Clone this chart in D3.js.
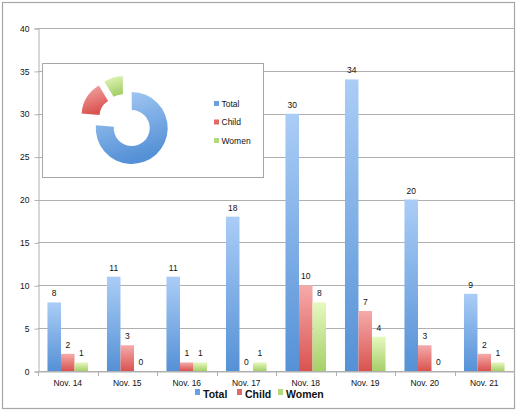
<!DOCTYPE html>
<html><head><meta charset="utf-8">
<script src="https://cdn.jsdelivr.net/npm/d3@7"></script>
<style>body{margin:0;background:#fff}svg{display:block;font-family:"Liberation Sans",Arial,sans-serif}</style>
</head><body>
<svg id="c" width="518" height="413"></svg>
<script>
const categories = ["Nov. 14","Nov. 15","Nov. 16","Nov. 17","Nov. 18","Nov. 19","Nov. 20","Nov. 21"];
const seriesNames = ["Total","Child","Women"];
const total = [8,11,11,18,30,34,20,9];
const child = [2,3,1,0,10,7,3,2];
const women = [1,0,1,1,8,4,0,1];
const yTicks = [0,5,10,15,20,25,30,35,40];

const seriesValues = [total, child, women];
const colors = {
  Total: ["#aacdf6", "#5591d6"],
  Child: ["#f5abab", "#d9534f"],
  Women: ["#e6f8bf", "#a6cf69"]
};
const solid = {Total:"#6a9fe0", Child:"#e06a66", Women:"#b5d879"};

const svg = d3.select("#c");
const defs = svg.append("defs");
seriesNames.forEach(s => {
  const g = defs.append("linearGradient").attr("id","g"+s).attr("x1",0).attr("y1",0).attr("x2",0).attr("y2",1);
  g.append("stop").attr("offset","0%").attr("stop-color",colors[s][0]);
  g.append("stop").attr("offset","100%").attr("stop-color",colors[s][1]);
  const p = defs.append("linearGradient").attr("id","p"+s).attr("x1",0).attr("y1",0).attr("x2",0.3).attr("y2",1);
  p.append("stop").attr("offset","0%").attr("stop-color",colors[s][0]);
  p.append("stop").attr("offset","100%").attr("stop-color",colors[s][1]);
});

// outer border
svg.append("rect").attr("x",2.5).attr("y",2.5).attr("width",512).attr("height",406)
  .attr("fill","#fff").attr("stroke","#a6a6a6").attr("stroke-width",1.2);

const x = d3.scaleBand().domain(categories).range([38,514]).paddingInner(0).paddingOuter(0);
const xs = d3.scaleBand().domain(seriesNames).range([0,x.bandwidth()]).paddingInner(0).paddingOuter(0.7);
const y = d3.scaleLinear().domain([0,40]).range([371,28]);

// gridlines
svg.append("g").selectAll("line").data(yTicks).join("line")
  .attr("x1",38).attr("x2",514).attr("y1",d=>Math.round(y(d))+0.5).attr("y2",d=>Math.round(y(d))+0.5)
  .attr("stroke","#b0b0b0").attr("stroke-width",1);

// y axis
const yAxis = svg.append("g").attr("transform","translate(38.5,0.5)")
  .call(d3.axisLeft(y).tickValues(yTicks).tickSize(4).tickPadding(5));
yAxis.select(".domain").attr("stroke","#b0b0b0");
yAxis.selectAll(".tick line").attr("stroke","#b0b0b0");
yAxis.selectAll("text").attr("font-size","8.5px").attr("fill","#111").attr("font-family","Liberation Sans, Arial, sans-serif");

// x axis
const xAxis = svg.append("g").attr("transform","translate(0,371.5)")
  .call(d3.axisBottom(x).tickSize(0).tickPadding(8));
xAxis.select(".domain").attr("stroke","#b0b0b0");
xAxis.selectAll("text").attr("font-size","8.5px").attr("fill","#111").attr("font-family","Liberation Sans, Arial, sans-serif");
svg.append("g").selectAll("line").data(categories.concat(["end"])).join("line")
  .attr("x1",(d,i)=>Math.round(38 + i*x.step())+0.5).attr("x2",(d,i)=>Math.round(38 + i*x.step())+0.5)
  .attr("y1",371).attr("y2",376).attr("stroke","#b0b0b0");

// bars
const groups = svg.append("g").selectAll("g").data(categories).join("g")
  .attr("transform",d=>`translate(${x(d)},0)`);
seriesNames.forEach((s,si) => {
  groups.append("rect")
    .attr("x",xs(s)).attr("width",xs.bandwidth())
    .attr("y",(d,i)=>y(seriesValues[si][i]))
    .attr("height",(d,i)=>y(0)-y(seriesValues[si][i]))
    .attr("fill",`url(#g${s})`);
  groups.append("text")
    .attr("x",xs(s)+xs.bandwidth()/2)
    .attr("y",(d,i)=>y(seriesValues[si][i])-6)
    .attr("text-anchor","middle").attr("font-size","8.5px").attr("fill","#111")
    .text((d,i)=>seriesValues[si][i]);
});

// bottom legend
const legItems = [{s:"Total",mx:195,tx:203},{s:"Child",mx:237,tx:245},{s:"Women",mx:278,tx:286}];
const lg = svg.append("g");
legItems.forEach(l => {
  lg.append("rect").attr("x",l.mx).attr("y",389).attr("width",5).attr("height",6).attr("fill",solid[l.s]);
  lg.append("text").attr("x",l.tx).attr("y",397.5).attr("font-size","10.5px").attr("font-weight","bold")
    .attr("fill","#111").text(l.s);
});

// inset pie
svg.append("rect").attr("x",42.5).attr("y",63.5).attr("width",221).attr("height",114)
  .attr("fill","#fff").attr("stroke","#a6a6a6").attr("stroke-width",1);
const sums = seriesValues.map(v => d3.sum(v));
const pie = d3.pie().sort(null)(sums);
const arc = d3.arc().innerRadius(18).outerRadius(36);
const cx = 125.4, cy = 121.2, explode = 9.3;
const pg = svg.append("g").attr("transform",`translate(${cx},${cy})`);
pie.forEach((p,i) => {
  const mid = (p.startAngle+p.endAngle)/2;
  const dx = Math.sin(mid)*explode, dy = -Math.cos(mid)*explode;
  pg.append("path").attr("d",arc(p)).attr("transform",`translate(${dx},${dy})`)
    .attr("fill",`url(#p${seriesNames[i]})`);
});
const pl = svg.append("g");
seriesNames.forEach((s,i) => {
  const yy = 103.5 + i*18.5;
  pl.append("rect").attr("x",214).attr("y",yy-2.5).attr("width",5).attr("height",5).attr("fill",solid[s]);
  pl.append("text").attr("x",221.5).attr("y",yy+3).attr("font-size","8.5px").attr("fill","#111").text(s);
});
</script>
</body></html>
